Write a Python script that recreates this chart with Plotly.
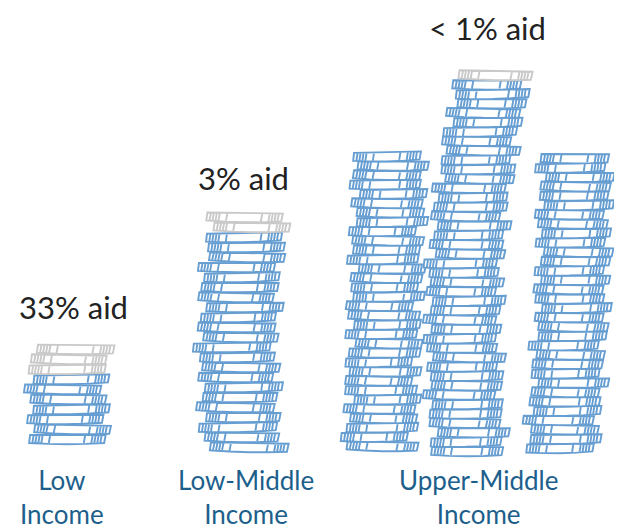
import numpy as np
import plotly.graph_objects as go

# income groups and the share of aid in their budgets
groups = ["Low<br>Income", "Low-Middle<br>Income", "Upper-Middle<br>Income"]
aid_text = ["33% aid", "3% aid", "< 1% aid"]

# one entry per coin stack (upper-middle is drawn as three stacks)
stack_group = [0, 1, 2, 2, 2]
blue_coins = [7, 22, 32, 40, 32]   # own revenue
grey_coins = [3, 2, 0, 1, 0]       # aid

# layout / style (page pixel units, y grows downward)
# the page has an 8px body margin, so the figure is 8px smaller and axes start at 8
PAD = 8
W, H = 622, 530
BLUE = "#679ed2"
GREY = "#c9c9c9"
base_y = [443, 451, 450, 455, 452]
stack_x = [67, 243, 380, 468, 562]
lean = [2, 5, 10, 25, 13]
bow = [0, -8, 0, -15, 3]
coin_w = [75, 75, 68, 70, 68]
step = [10, 10, 9.35, 9.4, 9.35]
group_x = [73, 243, 487]
aid_y = [307, 178, 28]
label_x = [62, 246, 478]
coin_h = 8


def coin_path(cx, cy, w, h, ang):
    c, s = np.cos(ang), np.sin(ang)

    def p(x, y):
        return f"{cx + x * c - y * s:.2f},{cy + x * s + y * c:.2f}"

    hw, hh = w / 2, h / 2
    d = f"M{p(-hw + 0.6, -hh)} L{p(hw + 1.2, -hh)} L{p(hw - 0.4, hh)} "
    d += f"L{p(hw * 0.5, hh + 0.9)} L{p(0, hh + 1.2)} L{p(-hw * 0.5, hh + 0.9)} "
    d += f"L{p(-hw - 0.4, hh)} Z"
    stripes = [3.5, 6.5, 9.5, 12.5, 20, w - 20, w - 12.5, w - 9.5, w - 6.5, w - 3.5]
    for xo in stripes:
        x = -hw + xo
        d += f" M{p(x + 0.7, -hh)} L{p(x - 0.7, hh)}"
    return d


shapes = []
for k, g in enumerate(stack_group):
    n = blue_coins[k] + grey_coins[k]
    for i in range(n):
        t = i / max(n - 1, 1)
        wob = 4.5 * np.sin(i * 2.3 + k * 1.1) + 2.0 * np.sin(i * 0.9 + k * 2.0)
        cx = stack_x[k] + lean[k] * t + bow[k] * np.sin(np.pi * t) + wob
        cy = base_y[k] - coin_h / 2 - i * step[k]
        ang = 0.022 * np.sin(i * 1.7 + k)
        w = coin_w[k] + 2.5 * np.sin(i * 3.1 + k)
        color = BLUE if i < blue_coins[k] else GREY
        shapes.append(dict(type="path", xref="x", yref="y",
                           path=coin_path(cx, cy, w, coin_h, ang),
                           line=dict(color=color, width=1.9),
                           fillcolor="white"))

fig = go.Figure()
fig.add_trace(go.Scatter(x=[PAD, W], y=[PAD, H], mode="markers",
                         marker=dict(opacity=0), hoverinfo="skip", showlegend=False))

annotations = []
for g in range(len(groups)):
    annotations.append(dict(x=group_x[g], y=aid_y[g], text=aid_text[g],
                            showarrow=False, xref="x", yref="y",
                            font=dict(family="Lato", size=31, color="#222222")))
    annotations.append(dict(x=label_x[g], y=497, text=groups[g], showarrow=False,
                            xref="x", yref="y",
                            font=dict(family="Lato", size=26, color="#1d5f8c")))

fig.update_layout(
    width=W - PAD, height=H - PAD,
    margin=dict(l=0, r=0, t=0, b=0),
    paper_bgcolor="white", plot_bgcolor="white",
    xaxis=dict(range=[PAD, W], visible=False, fixedrange=True),
    yaxis=dict(range=[H, PAD], visible=False, fixedrange=True),
    shapes=shapes,
    annotations=annotations,
    showlegend=False,
)

fig.write_html("out.html")
